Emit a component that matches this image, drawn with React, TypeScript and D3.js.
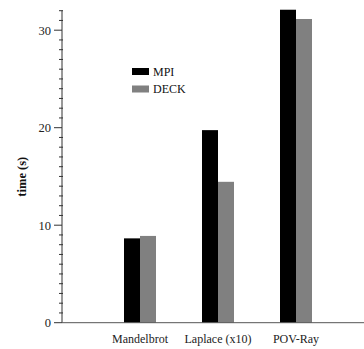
import React from 'react'
import * as d3 from 'd3'

const CATEGORIES = ['Mandelbrot', 'Laplace (x10)', 'POV-Ray']
const SERIES = ['MPI', 'DECK']
const MPI_VALUES = [8.65, 19.75, 32.1]
const DECK_VALUES = [8.9, 14.45, 31.15]
const SERIES_COLORS = ['#000000', '#808080']
const MAJOR_TICKS = [0, 10, 20, 30]

const W = 364
const H = 349
const margin = { top: 10.7, left: 62, bottom: 26.3 }
const FONT = '"Liberation Serif", "Times New Roman", serif'

export default function App() {
  const x0 = margin.left
  const yBase = H - margin.bottom

  const y = d3.scaleLinear().domain([0, 32]).range([yBase, margin.top])
  const x = d3
    .scalePoint<string>()
    .domain(CATEGORIES)
    .range([x0, x0 + 312])
    .padding(1)
  const inner = d3.scaleBand<string>().domain(SERIES).range([-16, 16])

  const minorTicks = d3.range(0, 33).filter((v) => !MAJOR_TICKS.includes(v))
  const values = [MPI_VALUES, DECK_VALUES]

  return (
    <svg
      width={W}
      height={H}
      style={{ position: 'absolute', left: 0, top: 0 }}
      fontFamily={FONT}
    >
      <rect width={W} height={H} fill="#fff" />

      {/* bars */}
      {SERIES.map((s, si) =>
        CATEGORIES.map((c, ci) => (
          <rect
            key={s + c}
            x={(x(c) ?? 0) + (inner(s) ?? 0)}
            y={y(values[si][ci])}
            width={inner.bandwidth()}
            height={yBase - y(values[si][ci])}
            fill={SERIES_COLORS[si]}
          />
        ))
      )}

      {/* y axis */}
      <line x1={x0} x2={x0} y1={y(32)} y2={yBase} stroke="#333" strokeWidth={1} />
      {minorTicks.map((v) => (
        <line key={v} x1={x0 - 3} x2={x0 + 1} y1={y(v)} y2={y(v)} stroke="#333" />
      ))}
      {MAJOR_TICKS.map((v) => (
        <g key={v}>
          <line x1={x0 - 8} x2={x0} y1={y(v)} y2={y(v)} stroke="#333" />
          <text
            x={x0 - 11}
            y={y(v)}
            dy="0.35em"
            textAnchor="end"
            fontSize={12.5}
            fill="#222"
          >
            {v}
          </text>
        </g>
      ))}

      {/* x axis */}
      <line x1={x0} x2={W} y1={yBase} y2={yBase} stroke="#555" />
      {CATEGORIES.map((c) => (
        <text
          key={c}
          x={x(c)}
          y={yBase + 20}
          textAnchor="middle"
          fontSize={12}
          fill="#222"
        >
          {c}
        </text>
      ))}

      {/* y label */}
      <text
        transform={`translate(26,${(margin.top + yBase) / 2 + 10}) rotate(-90)`}
        textAnchor="middle"
        fontSize={12.5}
        fontWeight="bold"
        fill="#111"
      >
        time (s)
      </text>

      {/* legend */}
      {SERIES.map((s, i) => (
        <g key={s} transform={`translate(132,${68 + i * 17.5})`}>
          <rect width={17} height={7} fill={SERIES_COLORS[i]} />
          <text x={21} y={7.5} fontSize={12} fill="#111">
            {s}
          </text>
        </g>
      ))}
    </svg>
  )
}
